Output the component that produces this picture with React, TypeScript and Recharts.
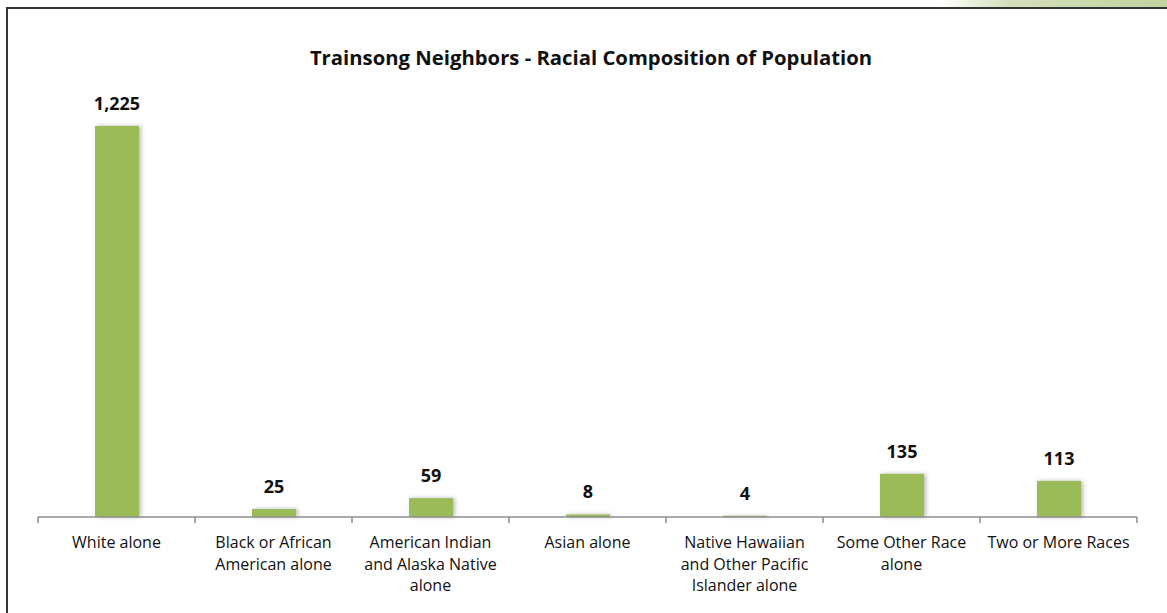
import { BarChart, Bar, XAxis, YAxis, LabelList } from "recharts"

const categories = [
  "White alone",
  "Black or African American alone",
  "American Indian and Alaska Native alone",
  "Asian alone",
  "Native Hawaiian and Other Pacific Islander alone",
  "Some Other Race alone",
  "Two or More Races",
]
const tickLines = [
  ["White alone"],
  ["Black or African", "American alone"],
  ["American Indian", "and Alaska Native", "alone"],
  ["Asian alone"],
  ["Native Hawaiian", "and Other Pacific", "Islander alone"],
  ["Some Other Race", "alone"],
  ["Two or More Races"],
]
const population = [1225, 25, 59, 8, 4, 135, 113]
const boundaryTicks = [0, 1, 2, 3, 4, 5, 6, 7]

const data = categories.map((name, i) => ({ name, value: population[i], idx: i }))

const FONT = "'Open Sans', 'Liberation Sans', sans-serif"

const CategoryTick = (props: any) => {
  const { x, y, index } = props
  const lines = tickLines[index] || []
  return (
    <text x={x} y={y} textAnchor="middle" fontFamily={FONT} fontSize={16} fill="#111">
      {lines.map((l, i) => (
        <tspan key={i} x={x} y={y + 28 + i * 21.5}>
          {l}
        </tspan>
      ))}
    </text>
  )
}

const ShadowBar = (props: any) => {
  const { x, y, width, height, fill } = props
  if (!height || height <= 0) return null
  return (
    <rect
      x={x}
      y={y}
      width={width}
      height={height}
      fill={fill}
      style={{ filter: "drop-shadow(2px 0px 2px rgba(0,0,0,0.28))" }}
    />
  )
}

export default function App() {
  return (
    <div style={{ position: "absolute", left: 0, top: 0, width: 1167, height: 613, background: "#fff", overflow: "hidden" }}>
      <div
        style={{
          position: "absolute",
          left: 940,
          top: 0,
          width: 227,
          height: 8,
          background: "linear-gradient(to right, #ffffff, #d3dfbb 30%, #c2d3a0)",
        }}
      />
      <div
        style={{
          position: "absolute",
          left: 6,
          top: 7,
          width: 1170,
          height: 620,
          borderLeft: "2px solid #333",
          borderTop: "2px solid #333",
        }}
      />
      <div
        style={{
          position: "absolute",
          left: 0,
          top: 43,
          width: 1182,
          textAlign: "center",
          fontFamily: FONT,
          fontWeight: 700,
          fontSize: 20.3,
          color: "#111",
        }}
      >
        Trainsong Neighbors - Racial Composition of Population
      </div>
      <div style={{ position: "absolute", left: 0, top: 0 }}>
        <BarChart
          width={1167}
          height={613}
          data={data}
          margin={{ top: 118, right: 30, bottom: 0, left: 38 }}
        >
          <XAxis
            xAxisId="bounds"
            type="number"
            dataKey="idx"
            domain={[0, 7]}
            ticks={boundaryTicks}
            allowDataOverflow
            height={1}
            axisLine={{ stroke: "#8c8c8c", strokeWidth: 1.5 }}
            tickLine={{ stroke: "#8c8c8c", strokeWidth: 1.5 }}
            tickSize={6}
            tickFormatter={() => ""}
          />
          <XAxis
            xAxisId="cat"
            dataKey="name"
            height={95}
            axisLine={false}
            tickLine={false}
            tickSize={0}
            interval={0}
            tick={<CategoryTick />}
          />
          <YAxis hide domain={[0, 1250]} />
          <Bar
            xAxisId="cat"
            dataKey="value"
            fill="#9bbb59"
            barSize={44}
            isAnimationActive={false}
            shape={<ShadowBar />}
          >
            <LabelList
              dataKey="value"
              position="top"
              offset={16}
              fontFamily={FONT}
              fontWeight={700}
              fontSize={18}
              fill="#111"
              formatter={(v: any) => Number(v).toLocaleString("en-US")}
            />
          </Bar>
        </BarChart>
      </div>
    </div>
  )
}
